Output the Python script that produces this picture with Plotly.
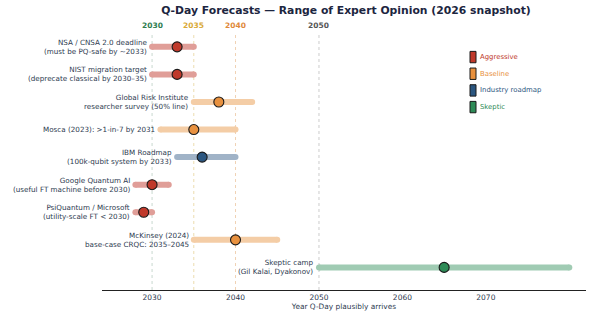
import plotly.graph_objects as go

labels = [
    "NSA / CNSA 2.0 deadline<br>(must be PQ-safe by ~2033)",
    "NIST migration target<br>(deprecate classical by 2030–35)",
    "Global Risk Institute<br>researcher survey (50% line)",
    "Mosca (2023): >1-in-7 by 2031",
    "IBM Roadmap<br>(100k-qubit system by 2033)",
    "Google Quantum AI<br>(useful FT machine before 2030)",
    "PsiQuantum / Microsoft<br>(utility-scale FT < 2030)",
    "McKinsey (2024)<br>base-case CRQC: 2035–2045",
    "Skeptic camp<br>(Gil Kalai, Dyakonov)",
]
lows = [2030, 2030, 2035, 2031, 2033, 2028, 2028, 2035, 2050]
mids = [2033, 2033, 2038, 2035, 2036, 2030, 2029, 2040, 2065]
highs = [2035, 2035, 2042, 2040, 2040, 2032, 2030, 2045, 2080]
cats = ["Aggressive", "Aggressive", "Baseline", "Baseline", "Industry roadmap",
        "Aggressive", "Aggressive", "Baseline", "Skeptic"]

cat_names = ["Aggressive", "Baseline", "Industry roadmap", "Skeptic"]
cat_colors = {"Aggressive": "#c0392b", "Baseline": "#e8913f",
              "Industry roadmap": "#2b5680", "Skeptic": "#2e8b57"}
cat_light = {"Aggressive": "#e09e98", "Baseline": "#f4cda6",
             "Industry roadmap": "#a0b3c7", "Skeptic": "#a0cbb3"}

ref_years = [2030, 2035, 2040, 2050]
ref_colors = ["#2e7d4f", "#d9a937", "#e0893a", "#555555"]
ref_line_colors = ["#c9d9cf", "#ecdcae", "#f0d2b4", "#cccccc"]

x_ticks = [2030, 2040, 2050, 2060, 2070]

FONT = "DejaVu Sans"
W, H = 600, 320
ML, MR, MT, MB = 102, 14, 35, 25

fig = go.Figure()

for yr, tc, lc in zip(ref_years, ref_colors, ref_line_colors):
    fig.add_shape(type="line", x0=yr, x1=yr, y0=0, y1=1, xref="x", yref="paper",
                  line=dict(color=lc, width=1, dash="dot"), layer="below")
    fig.add_annotation(x=yr, y=1, xref="x", yref="paper", text=f"<b>{yr}</b>",
                       showarrow=False, yanchor="bottom", yshift=3,
                       font=dict(family=FONT, size=7.5, color=tc))

for i in range(len(labels)):
    c = cats[i]
    fig.add_trace(go.Scatter(
        x=[lows[i], highs[i]], y=[i, i], mode="lines+markers",
        line=dict(color=cat_light[c], width=6),
        marker=dict(size=6, color=cat_light[c], line=dict(width=0)),
        hoverinfo="skip", showlegend=False))
    fig.add_trace(go.Scatter(
        x=[mids[i]], y=[i], mode="markers",
        marker=dict(size=10, color=cat_colors[c], line=dict(color="#1a1a1a", width=1.1)),
        showlegend=False))
    fig.add_annotation(x=lows[i], y=i, xref="x", yref="y", text=labels[i],
                       showarrow=False, xanchor="right", yanchor="middle", xshift=-3,
                       align="right", font=dict(family=FONT, size=7.2, color="#2d3a4f"))

# legend
pw, ph = W - ML - MR, H - MT - MB
def px2paper(xp, yp):
    return (xp - ML) / pw, (H - MB - yp) / ph

for k, name in enumerate(cat_names):
    yc = 57.5 + 17 * k
    x0, y0 = px2paper(470, yc - 5.8)
    x1, y1 = px2paper(476, yc + 5.8)
    fig.add_shape(type="rect", x0=x0, x1=x1, y0=y1, y1=y0, xref="paper", yref="paper",
                  fillcolor=cat_colors[name], line=dict(color="#1a1a1a", width=1))
    tx, ty = px2paper(478, yc)
    fig.add_annotation(x=tx, y=ty, xref="paper", yref="paper", text=name,
                       showarrow=False, xanchor="left", yanchor="middle",
                       font=dict(family=FONT, size=6.9, color=cat_colors[name]))

fig.update_layout(
    width=W, height=H,
    margin=dict(l=ML, r=MR, t=MT, b=MB),
    paper_bgcolor="white", plot_bgcolor="white",
    title=dict(text="<b>Q-Day Forecasts — Range of Expert Opinion (2026 snapshot)</b>",
               x=(165 + 527) / 2 / W, xanchor="center", y=1 - 6 / H, yanchor="top",
               font=dict(family=FONT, size=10.8, color="#1c2540")),
    xaxis=dict(range=[2024, 2082], tickvals=x_ticks, showgrid=False, zeroline=False,
               showline=True, linecolor="#222", linewidth=1, ticks="",
               tickfont=dict(family=FONT, size=7.5, color="#2d3a4f"),
               title=dict(text="Year Q-Day plausibly arrives", standoff=1,
                          font=dict(family=FONT, size=7.4, color="#2d3a4f"))),
    yaxis=dict(range=[8.82, -0.43], showticklabels=False, showgrid=False,
               zeroline=False, showline=False),
    showlegend=False,
)

fig.write_html("out.html")
